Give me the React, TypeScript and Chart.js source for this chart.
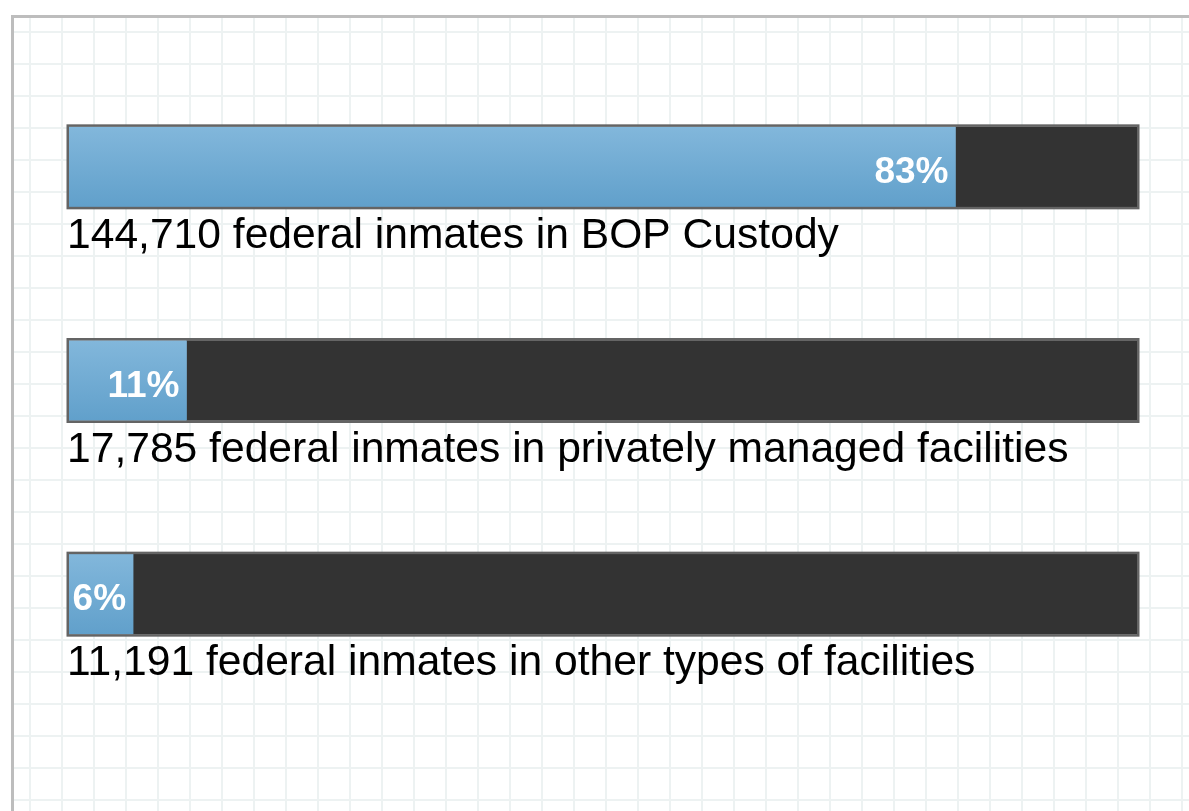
import React, { useEffect, useRef } from "react";
import { Chart, registerables } from "chart.js";

Chart.register(...registerables);

const categories = [
  "144,710 federal inmates in BOP Custody",
  "17,785 federal inmates in privately managed facilities",
  "11,191 federal inmates in other types of facilities",
];
const sharePercent = [83, 11, 6];
const remainderPercent = [17, 89, 94];

const FONT = "'Liberation Sans', Arial, Helvetica, sans-serif";

const barDecorPlugin = {
  id: "barDecor",
  afterDatasetsDraw(chart: any) {
    const ctx = chart.ctx;
    const shareMeta = chart.getDatasetMeta(0);
    const restMeta = chart.getDatasetMeta(1);
    shareMeta.data.forEach((el: any, i: number) => {
      const p = el.getProps(["x", "y", "base", "height"], true);
      const r = restMeta.data[i].getProps(["x", "y", "base", "height"], true);
      const left = p.base;
      const right = r.x;
      const top = p.y - p.height / 2;
      const bottom = p.y + p.height / 2;
      ctx.save();
      ctx.strokeStyle = "#646464";
      ctx.lineWidth = 2.5;
      ctx.strokeRect(left - 1.25, top - 1.25, right - left + 2.5, bottom - top + 2.5);
      ctx.fillStyle = "#ffffff";
      ctx.font = `bold 37px ${FONT}`;
      ctx.textAlign = "right";
      ctx.textBaseline = "alphabetic";
      ctx.fillText(`${sharePercent[i]}%`, p.x - 7, p.y + 16);
      ctx.fillStyle = "#000000";
      ctx.font = `42.6px ${FONT}`;
      ctx.textAlign = "left";
      ctx.fillText(categories[i], left - 2, bottom + 41);
      ctx.restore();
    });
  },
};

export default function App() {
  const canvasRef = useRef<HTMLCanvasElement | null>(null);

  useEffect(() => {
    const canvas = canvasRef.current;
    if (!canvas) return;
    const chart = new Chart(canvas, {
      type: "bar",
      data: {
        labels: categories,
        datasets: [
          {
            label: "Share",
            data: sharePercent,
            backgroundColor: (context: any) => {
              const c = context.chart;
              const yScale = c.scales?.y;
              if (!yScale || context.dataIndex === undefined) return "#72abd3";
              const cy = yScale.getPixelForValue(context.dataIndex);
              if (!Number.isFinite(cy)) return "#72abd3";
              const g = c.ctx.createLinearGradient(0, cy - 40, 0, cy + 40);
              g.addColorStop(0, "#82b7db");
              g.addColorStop(1, "#61a0cb");
              return g;
            },
            borderWidth: 0,
            barThickness: 80,
          },
          {
            label: "Rest",
            data: remainderPercent,
            backgroundColor: "#333333",
            borderWidth: 0,
            barThickness: 80,
          },
        ],
      },
      options: {
        indexAxis: "y",
        animation: false,
        responsive: false,
        devicePixelRatio: 1,
        layout: { padding: { left: 69, right: 52, top: 60, bottom: 110 } },
        scales: {
          x: { min: 0, max: 100, stacked: true, display: false },
          y: { stacked: true, display: false },
        },
        plugins: {
          legend: { display: false },
          tooltip: { enabled: false },
        },
      },
      plugins: [barDecorPlugin],
    });
    return () => chart.destroy();
  }, []);

  const gridColor = "#edf2f2";

  return (
    <div
      style={{
        position: "absolute",
        left: 0,
        top: 0,
        width: 1189,
        height: 811,
        overflow: "hidden",
        background: "#ffffff",
      }}
    >
      <div
        style={{
          position: "absolute",
          left: 11,
          top: 15,
          width: 1200,
          height: 820,
          borderLeft: "3px solid #bdbdbd",
          borderTop: "3px solid #bdbdbd",
          backgroundImage: `linear-gradient(to right, ${gridColor} 2px, transparent 2px), linear-gradient(to bottom, ${gridColor} 2px, transparent 2px)`,
          backgroundSize: "32px 32px",
          backgroundPosition: "15px 13px",
        }}
      />
      <canvas
        ref={canvasRef}
        width={1189}
        height={811}
        style={{ position: "absolute", left: 0, top: 0, width: 1189, height: 811 }}
      />
    </div>
  );
}
